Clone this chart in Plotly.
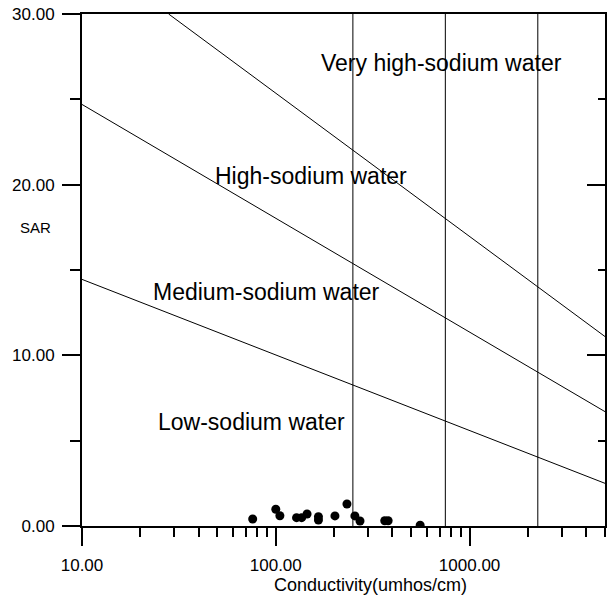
import numpy as np
import plotly.graph_objects as go

# ---- data ----
sample_ec = [76, 100, 105, 128, 136, 145, 166, 166, 202, 233, 256, 272, 365, 380, 556]
sample_sar = [0.41, 0.98, 0.60, 0.49, 0.49, 0.70, 0.54, 0.35, 0.59, 1.29, 0.59, 0.29, 0.31, 0.31, 0.05]

low_med_ec = [10, 5000]
low_med_sar = [14.45, 2.5]
med_high_ec = [10, 5000]
med_high_sar = [24.7, 6.7]
high_vhigh_ec = [28, 5000]
high_vhigh_sar = [30, 11.1]

salinity_bounds = [250, 750, 2250]
sar_span = [0, 30]

region_labels = ["Very high-sodium water", "High-sodium water", "Medium-sodium water", "Low-sodium water"]
region_ec = [716, 152, 90, 75]
region_sar = [27.1, 20.5, 13.7, 6.1]

x_ticks = [10, 100, 1000]
x_ticktext = ["10.00", "100.00", "1000.00"]
x_minor = [20, 30, 40, 50, 60, 70, 80, 90, 200, 300, 400, 500, 600, 700, 800, 900, 2000, 3000, 4000, 5000]
y_ticks = [0, 10, 20, 30]
y_ticktext = ["0.00", "10.00", "20.00", "30.00"]
y_minor = [5, 15, 25]

FONT = "Arial, Liberation Sans, sans-serif"
line_style = dict(color="black", width=1)

# plot area target (screen): x 82..605, y 14..526 ; page body margin removed below
W, H = 616, 604
L, R, T, B = 82, 605, 14, 526

fig = go.Figure()
for ex, sy in [(low_med_ec, low_med_sar), (med_high_ec, med_high_sar), (high_vhigh_ec, high_vhigh_sar)]:
    fig.add_trace(go.Scatter(x=ex, y=sy, mode="lines", line=line_style, showlegend=False, hoverinfo="skip"))
for b in salinity_bounds:
    fig.add_trace(go.Scatter(x=[b, b], y=sar_span, mode="lines", line=line_style, showlegend=False, hoverinfo="skip"))
fig.add_trace(go.Scatter(x=sample_ec, y=sample_sar, mode="markers",
                         marker=dict(color="black", size=9), showlegend=False))
# dummy trace for the right-side axis
fig.add_trace(go.Scatter(x=[None], y=[None], yaxis="y2", showlegend=False))

for txt, ex, sy in zip(region_labels, region_ec, region_sar):
    fig.add_annotation(x=np.log10(ex), y=sy, xref="x", yref="y", text=txt, showarrow=False,
                       xanchor="center", yanchor="middle",
                       font=dict(family=FONT, size=23, color="black"))

fig.add_annotation(x=(370 - L) / (R - L), y=(B - 585) / (B - T), xref="paper", yref="paper",
                   text="Conductivity(umhos/cm)", showarrow=False,
                   xanchor="center", yanchor="middle",
                   font=dict(family=FONT, size=18, color="black"))
fig.add_annotation(x=(35 - L) / (R - L), y=(B - 227) / (B - T), xref="paper", yref="paper",
                   text="SAR", showarrow=False, xanchor="center", yanchor="middle",
                   font=dict(family=FONT, size=15, color="black"))

fig.update_layout(
    width=W, height=H,
    margin=dict(l=L, r=W - R, t=T, b=H - B, autoexpand=False),
    paper_bgcolor="white", plot_bgcolor="white",
    font=dict(family=FONT, color="black"),
    xaxis=dict(type="log", range=[1, np.log10(5000)], showgrid=False, zeroline=False,
               automargin=False,
               showline=True, linecolor="black", linewidth=2, mirror=True,
               tickmode="array", tickvals=x_ticks, ticktext=x_ticktext,
               ticks="outside", ticklen=18, tickwidth=1.5, tickcolor="black",
               tickfont=dict(size=17, family=FONT), ticklabelstandoff=5,
               ticklabeloverflow="allow",
               minor=dict(tickmode="array", tickvals=x_minor, ticks="outside",
                          ticklen=9, tickwidth=1.5, tickcolor="black", showgrid=False)),
    yaxis=dict(range=[0, 30], showgrid=False, zeroline=False, automargin=False,
               showline=True, linecolor="black", linewidth=2, mirror=True,
               tickmode="array", tickvals=y_ticks, ticktext=y_ticktext,
               ticks="outside", ticklen=18, tickwidth=1.5, tickcolor="black",
               tickfont=dict(size=17, family=FONT), ticklabelstandoff=4,
               ticklabeloverflow="allow",
               minor=dict(tickmode="array", tickvals=y_minor, ticks="outside",
                          ticklen=10, tickwidth=1.5, tickcolor="black", showgrid=False)),
    yaxis2=dict(range=[0, 30], overlaying="y", side="right", showgrid=False, zeroline=False,
                automargin=False, showline=False, showticklabels=False,
                tickmode="array", tickvals=[10, 20], ticks="inside", ticklen=18,
                tickwidth=1.5, tickcolor="black",
                minor=dict(tickmode="array", tickvals=y_minor, ticks="inside",
                           ticklen=7, tickwidth=1.5, tickcolor="black", showgrid=False)),
)

fig.write_html("out.html", config={"displayModeBar": False},
               post_script="document.body.style.margin='0';")
